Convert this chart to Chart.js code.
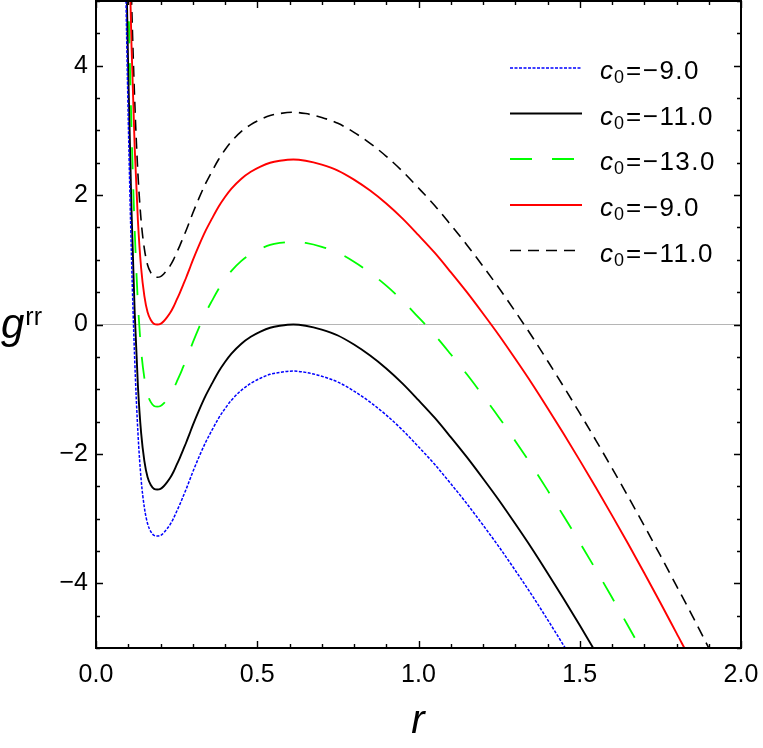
<!DOCTYPE html>
<html><head><meta charset="utf-8">
<script src="https://cdn.jsdelivr.net/npm/chart.js@4/dist/chart.umd.min.js"></script>
<style>html,body{margin:0;padding:0;background:#fff;}canvas{display:block;}</style>
</head><body>
<canvas id="c" width="763" height="748"></canvas>
<script>
// ---- data ----
const rValues = [0.08,0.09,0.10,0.11,0.12,0.13,0.14,0.15,0.16,0.17,0.18,0.19,0.20,0.21,0.22,0.23,0.24,0.25,0.26,0.27,0.28,0.29,0.30,0.32,0.34,0.36,0.38,0.40,0.42,0.45,0.48,0.51,0.54,0.57,0.612,0.65,0.70,0.75,0.80,0.85,0.90,0.95,1.00,1.05,1.10,1.15,1.20,1.25,1.30,1.35,1.40,1.45,1.50,1.55,1.60,1.65,1.70,1.75,1.80,1.85,1.90,1.95,2.00];

const gBlueDotted = [9.18,5.88,3.18,1.06,-0.54,-1.67,-2.40,-2.83,-3.08,-3.20,-3.26,-3.27,-3.26,-3.22,-3.16,-3.09,-3.00,-2.89,-2.78,-2.66,-2.54,-2.41,-2.28,-2.04,-1.82,-1.63,-1.45,-1.30,-1.17,-1.02,-0.91,-0.83,-0.77,-0.74,-0.72,-0.74,-0.80,-0.89,-1.03,-1.20,-1.40,-1.63,-1.89,-2.16,-2.46,-2.77,-3.10,-3.44,-3.80,-4.17,-4.56,-4.96,-5.37,-5.79,-6.22,-6.66,-7.11,-7.57,-8.04,-8.51,-9.00,-9.49,-9.98];

const gBlackSolid = [9.90,6.60,3.90,1.78,0.18,-0.95,-1.68,-2.11,-2.36,-2.48,-2.54,-2.55,-2.54,-2.50,-2.44,-2.37,-2.28,-2.17,-2.06,-1.94,-1.82,-1.69,-1.56,-1.32,-1.10,-0.91,-0.73,-0.58,-0.45,-0.30,-0.19,-0.11,-0.05,-0.02,0.00,-0.02,-0.08,-0.17,-0.31,-0.48,-0.68,-0.91,-1.17,-1.44,-1.74,-2.05,-2.38,-2.72,-3.08,-3.45,-3.84,-4.24,-4.65,-5.07,-5.50,-5.94,-6.39,-6.85,-7.32,-7.79,-8.28,-8.77,-9.26];

const gGreenDashed = [11.18,7.88,5.18,3.06,1.46,0.33,-0.40,-0.83,-1.08,-1.20,-1.26,-1.27,-1.26,-1.22,-1.16,-1.09,-1.00,-0.89,-0.78,-0.66,-0.54,-0.41,-0.28,-0.04,0.18,0.37,0.55,0.70,0.83,0.98,1.09,1.17,1.23,1.26,1.28,1.26,1.20,1.11,0.97,0.80,0.60,0.37,0.11,-0.16,-0.46,-0.77,-1.10,-1.44,-1.80,-2.17,-2.56,-2.96,-3.37,-3.79,-4.22,-4.66,-5.11,-5.57,-6.04,-6.51,-7.00,-7.49,-7.98];

const gRedSolid = [12.45,9.15,6.45,4.33,2.73,1.60,0.87,0.44,0.19,0.07,0.01,0.00,0.01,0.05,0.11,0.18,0.27,0.38,0.49,0.61,0.73,0.86,0.99,1.23,1.45,1.64,1.82,1.97,2.10,2.25,2.36,2.44,2.50,2.53,2.55,2.53,2.47,2.38,2.24,2.07,1.87,1.64,1.38,1.11,0.81,0.50,0.17,-0.17,-0.53,-0.90,-1.29,-1.69,-2.10,-2.52,-2.95,-3.39,-3.84,-4.30,-4.77,-5.24,-5.73,-6.22,-6.71];

const gBlackDashed = [13.18,9.88,7.18,5.06,3.46,2.33,1.60,1.17,0.92,0.80,0.74,0.73,0.74,0.78,0.84,0.91,1.00,1.11,1.22,1.34,1.46,1.59,1.72,1.96,2.18,2.37,2.55,2.70,2.83,2.98,3.09,3.17,3.23,3.26,3.28,3.26,3.20,3.11,2.97,2.80,2.60,2.37,2.11,1.84,1.54,1.23,0.90,0.56,0.20,-0.17,-0.56,-0.96,-1.37,-1.79,-2.22,-2.66,-3.11,-3.57,-4.04,-4.51,-5.00,-5.49,-5.98];

const legendValues = ['\u22129.0','\u221211.0','\u221213.0','\u22129.0','\u221211.0'];
const xTicks = [0, 0.5, 1.0, 1.5, 2.0];
const yTicks = [-4, -2, 0, 2, 4];
const xMinorStep = 0.1;
const yMinorStep = 0.5;

// ---- styling ----
const FONT = '"Liberation Sans", Arial, sans-serif';
function pts(arr){ return rValues.map((x,i)=>({x:x, y:arr[i]})); }
function ds(arr, color, width, dash){
  return {data: pts(arr), borderColor: color, borderWidth: width, borderDash: dash,
          pointRadius: 0, fill: false, cubicInterpolationMode: 'monotone'};
}
const datasets = [
  ds(gBlueDotted, '#0000ff', 1.5, [3,1.5]),
  ds(gBlackSolid, '#000000', 1.9, []),
  ds(gGreenDashed, '#00ff00', 1.8, [22,20]),
  ds(gRedSolid, '#ff0000', 1.9, []),
  ds(gBlackDashed, '#000000', 1.6, [11,7])
];

const decor = {
  id: 'decor',
  afterDraw(chart){
    const ctx = chart.ctx, a = chart.chartArea;
    const xs = chart.scales.x, ys = chart.scales.y;
    ctx.save();
    // frame
    ctx.strokeStyle = '#000'; ctx.lineWidth = 2;
    ctx.strokeRect(a.left, a.top, a.right - a.left, a.bottom - a.top);
    // inward ticks
    ctx.lineWidth = 1.4;
    ctx.beginPath();
    for (let i = 0; i <= Math.round((xs.max - xs.min)/xMinorStep); i++){
      const v = xs.min + i*xMinorStep;
      const major = Math.abs(v/0.5 - Math.round(v/0.5)) < 1e-6;
      const L = major ? 7 : 4;
      const px = Math.round(xs.getPixelForValue(v)) + 0.5;
      ctx.moveTo(px, a.bottom); ctx.lineTo(px, a.bottom - L);
      ctx.moveTo(px, a.top); ctx.lineTo(px, a.top + L);
    }
    for (let i = 0; i <= Math.round((ys.max - ys.min)/yMinorStep); i++){
      const v = ys.min + i*yMinorStep;
      const major = Math.abs(v/2 - Math.round(v/2)) < 1e-6;
      const L = major ? 7 : 4;
      const py = Math.round(ys.getPixelForValue(v)) + 0.5;
      ctx.moveTo(a.left, py); ctx.lineTo(a.left + L, py);
      ctx.moveTo(a.right, py); ctx.lineTo(a.right - L, py);
    }
    ctx.stroke();

    // axis titles
    ctx.fillStyle = '#000';
    ctx.textBaseline = 'alphabetic';
    ctx.textAlign = 'left';
    ctx.font = 'italic 42px ' + FONT;
    ctx.fillText('g', 1, 338);
    const gw = ctx.measureText('g').width;
    ctx.font = '25px ' + FONT;
    ctx.fillText('rr', 1 + gw + 1, 325);
    ctx.font = 'italic 40px ' + FONT;
    ctx.textAlign = 'center';
    ctx.fillText('r', 418, 733);

    // legend
    ctx.textAlign = 'left';
    const rowY = [68, 113.5, 159, 205, 250.5];
    chart.data.datasets.forEach((d, i) => {
      const y = rowY[i];
      ctx.save();
      ctx.strokeStyle = d.borderColor; ctx.lineWidth = d.borderWidth;
      ctx.setLineDash(d.borderDash || []);
      ctx.beginPath(); ctx.moveTo(510, y); ctx.lineTo(582, y); ctx.stroke();
      ctx.restore();
      let x = 600; const base = y + 11;
      ctx.font = 'italic 26px ' + FONT;
      ctx.fillText('c', x, base); x += ctx.measureText('c').width + 1;
      ctx.font = '18px ' + FONT;
      ctx.fillText('0', x, base + 4); x += ctx.measureText('0').width + 2;
      ctx.font = '26px ' + FONT;
      try { ctx.letterSpacing = '1.5px'; } catch(e) {}
      ctx.fillText('=' + legendValues[i], x, base);
      try { ctx.letterSpacing = '0px'; } catch(e) {}
    });
    ctx.restore();
  }
};

new Chart(document.getElementById('c'), {
  type: 'line',
  data: { datasets: datasets },
  options: {
    responsive: false, animation: false,
    layout: { padding: { left: 0, right: 22, top: 1, bottom: 0 }, autoPadding: false },
    plugins: { legend: { display: false }, tooltip: { enabled: false } },
    scales: {
      x: {
        type: 'linear', min: 0, max: 2,
        afterBuildTicks: s => { s.ticks = xTicks.map(v => ({value: v})); },
        afterFit: s => { s.height = 100; s.paddingLeft = 0; s.paddingRight = 0; },
        grid: { display: false, drawTicks: false },
        border: { display: false },
        ticks: { color: '#000', font: { family: FONT, size: 25 }, padding: 12,
                 maxRotation: 0, autoSkip: false, callback: v => Number(v).toFixed(1) }
      },
      y: {
        type: 'linear', min: -5, max: 5,
        afterBuildTicks: s => { s.ticks = yTicks.map(v => ({value: v})); },
        afterFit: s => { s.width = 96; s.paddingTop = 0; s.paddingBottom = 0; },
        grid: { drawTicks: false, lineWidth: 1,
                color: c => (c.tick && c.tick.value === 0) ? '#b5b5b5' : 'rgba(0,0,0,0)' },
        border: { display: false },
        ticks: { color: '#000', font: { family: FONT, size: 25 }, padding: 8, autoSkip: false,
                 callback: v => v < 0 ? '\u2212' + Math.abs(v) : String(v) }
      }
    }
  },
  plugins: [decor]
});
</script>
</body></html>
